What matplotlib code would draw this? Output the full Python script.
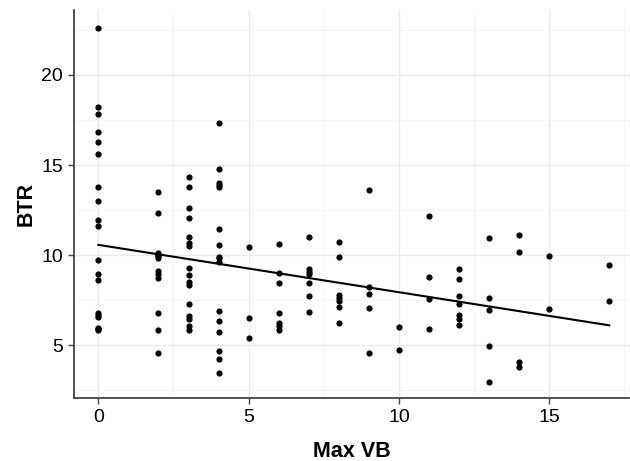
import numpy as np
import matplotlib.pyplot as plt

plt.rcParams['font.family'] = ['Liberation Sans', 'DejaVu Sans']

# Max VB score and BTR value for each subject
max_vb = ([0] * 19 + [2] * 12 + [3] * 16 + [4] * 16 + [5] * 3 + [6] * 7 +
          [7] * 7 + [8] * 7 + [9] * 5 + [10] * 2 + [11] * 4 + [12] * 7 +
          [13] * 5 + [14] * 4 + [15] * 2 + [17] * 2)
btr = [
    # 0
    22.63, 18.2, 17.82, 16.82, 16.26, 15.59, 13.78, 13.0, 11.93, 11.61,
    9.70, 8.94, 8.59, 6.78, 6.65, 6.57, 5.95, 5.88, 5.83,
    # 2
    13.52, 12.35, 10.09, 9.85, 9.11, 8.94, 8.74, 6.80, 5.81, 4.54,
    10.0, 9.95,
    # 3
    14.33, 13.77, 12.59, 12.06, 10.98, 10.65, 10.52, 9.28, 8.87, 8.48,
    8.35, 7.28, 6.61, 6.43, 6.07, 5.81,
    # 4
    17.35, 14.79, 14.02, 13.78, 11.44, 10.57, 9.85, 9.6, 6.89, 6.31,
    5.72, 4.65, 4.22, 3.44, 13.9, 9.9,
    # 5
    10.43, 6.48, 5.41,
    # 6
    10.61, 9.02, 8.46, 6.80, 6.24, 6.06, 5.83,
    # 7
    10.98, 9.22, 9.07, 8.93, 8.43, 7.72, 6.85,
    # 8
    10.70, 9.89, 7.76, 7.61, 7.46, 7.11, 6.20,
    # 9
    13.61, 8.20, 7.83, 7.07, 4.57,
    # 10
    5.98, 4.74,
    # 11
    12.15, 8.78, 7.58, 5.91,
    # 12
    9.24, 8.69, 7.74, 7.26, 6.68, 6.44, 6.13,
    # 13
    10.93, 7.63, 6.93, 4.96, 2.94,
    # 14
    11.13, 10.19, 4.06, 3.78,
    # 15
    9.94, 7.02,
    # 17
    9.44, 7.44,
]

x = np.array(max_vb, dtype=float)
y = np.array(btr)
slope, intercept = np.polyfit(x, y, 1)

fig = plt.figure(figsize=(6.3, 4.61), dpi=100)
ax = fig.add_axes([74 / 630, 63 / 461, 556 / 630, 388 / 461])

ax.set_xlim(-0.81, 17.69)
ax.set_ylim(2.06, 23.61)

# light major and minor grid
ax.set_xticks([0, 5, 10, 15])
ax.set_yticks([5, 10, 15, 20])
ax.set_xticks([2.5, 7.5, 12.5, 17.5], minor=True)
ax.set_yticks([2.5, 7.5, 12.5, 17.5, 22.5], minor=True)
ax.grid(which='major', color='#ebebeb', linewidth=1.0)
ax.grid(which='minor', color='#f4f4f4', linewidth=0.6)
ax.set_axisbelow(True)

for side in ('top', 'right'):
    ax.spines[side].set_visible(False)
for side in ('left', 'bottom'):
    ax.spines[side].set_color('#444444')
    ax.spines[side].set_linewidth(1.3)

ax.tick_params(which='major', length=4, width=1, color='#444444',
               labelsize=14, labelcolor='black', pad=4)
ax.tick_params(which='minor', length=0)

ax.scatter(x, y, s=20, color='black', zorder=3, linewidths=0)

xs = np.array([x.min(), x.max()])
ax.plot(xs, intercept + slope * xs, color='black', linewidth=1.5, zorder=4)

ax.set_xlabel('Max VB', fontsize=15.5, fontweight='bold', labelpad=11)
ax.set_ylabel('BTR', fontsize=15.5, fontweight='bold', labelpad=3)

fig.savefig('out.png', dpi=100)
